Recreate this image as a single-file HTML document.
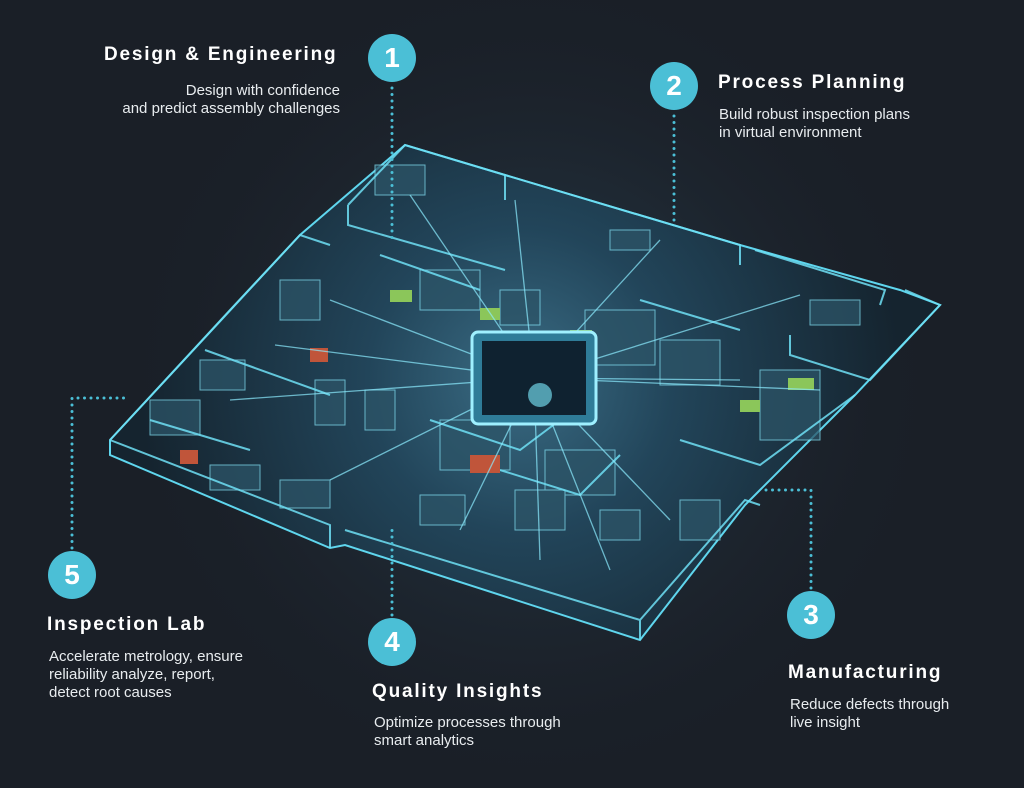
<!DOCTYPE html>
<html><head><style>
html,body{margin:0;padding:0;background:#1a1f27;}
body{width:1024px;height:788px;position:relative;overflow:hidden;font-family:"Liberation Sans",sans-serif;color:#fff;}
.h{position:absolute;font-size:19px;font-weight:bold;letter-spacing:1.8px;white-space:nowrap;}
.t{position:absolute;font-size:15px;line-height:18px;color:#e8ecef;white-space:nowrap;}
.c{position:absolute;width:48px;height:48px;border-radius:50%;background:#4bbfd6;color:#fff;font-size:28px;font-weight:bold;text-align:center;line-height:48px;}
</style></head><body>
<svg width="1024" height="788" style="position:absolute;left:0;top:0">
<defs>
<radialGradient id="g" cx="520" cy="380" r="380" gradientUnits="userSpaceOnUse">
<stop offset="0" stop-color="#3a6c84"/><stop offset="0.4" stop-color="#22455a"/><stop offset="1" stop-color="#15242f"/>
</radialGradient>
<radialGradient id="glow" cx="530" cy="380" r="420" gradientUnits="userSpaceOnUse">
<stop offset="0" stop-color="#2b4556" stop-opacity="0.9"/><stop offset="1" stop-color="#1a1f27" stop-opacity="0"/>
</radialGradient>
</defs>
<rect width="1024" height="788" fill="url(#glow)"/>
<polygon points="110,440 300,235 405,145 505,175 740,245 900,290 940,305 855,395 760,490 745,505 640,640 345,545 330,548 110,455" fill="url(#g)" stroke="#5fd6ee" stroke-width="2"/>
<!-- machine blocks -->
<g fill="#2c5467" stroke="#7fdcef" stroke-width="1" opacity="0.75">
<rect x="200" y="360" width="45" height="30"/><rect x="150" y="400" width="50" height="35"/>
<rect x="280" y="480" width="50" height="28"/><rect x="210" y="465" width="50" height="25"/>
<rect x="315" y="380" width="30" height="45"/><rect x="365" y="390" width="30" height="40"/>
<rect x="440" y="420" width="70" height="50"/><rect x="545" y="450" width="70" height="45"/>
<rect x="515" y="490" width="50" height="40"/><rect x="420" y="495" width="45" height="30"/>
<rect x="585" y="310" width="70" height="55"/><rect x="420" y="270" width="60" height="40"/>
<rect x="660" y="340" width="60" height="45"/><rect x="760" y="370" width="60" height="70"/>
<rect x="500" y="290" width="40" height="35"/><rect x="375" y="165" width="50" height="30"/>
<rect x="610" y="230" width="40" height="20"/><rect x="810" y="300" width="50" height="25"/>
<rect x="600" y="510" width="40" height="30"/><rect x="680" y="500" width="40" height="40"/>
<rect x="280" y="280" width="40" height="40"/>
</g>
<g fill="none" stroke="#6fe0f5" stroke-width="2" opacity="0.85">
<polyline points="348,205 405,145 505,175 505,200"/>
<polyline points="348,205 348,225 505,270"/>
<polyline points="505,175 740,245 740,265"/>
<polyline points="755,250 885,290 880,305"/>
<polyline points="905,290 940,305 870,380 790,355 790,335"/>
<polyline points="110,440 230,310 300,235 330,245"/>
<polyline points="110,440 330,525 330,548"/>
<polyline points="345,530 640,620 640,640"/>
<polyline points="640,620 745,500 760,505"/>
<polyline points="680,440 760,465 855,395"/>
<polyline points="205,350 330,395"/>
<polyline points="380,255 480,290"/>
<polyline points="430,420 520,450 560,420"/>
<polyline points="500,470 580,495 620,455"/>
<polyline points="150,420 250,450"/>
<polyline points="640,300 740,330"/>
</g>
<g>
<rect x="470" y="455" width="30" height="18" fill="#c0553a"/>
<rect x="390" y="290" width="22" height="12" fill="#8bc65a"/>
<rect x="570" y="330" width="22" height="12" fill="#8bc65a"/>
<rect x="740" y="400" width="20" height="12" fill="#8bc65a"/>
<rect x="310" y="348" width="18" height="14" fill="#c0553a"/>
<rect x="180" y="450" width="18" height="14" fill="#c0553a"/>
<rect x="788" y="378" width="26" height="12" fill="#8bc65a"/>
<rect x="480" y="308" width="20" height="12" fill="#8bc65a"/>
</g>
<g stroke="#8cecff" stroke-width="1.3" opacity="0.7">
<line x1="534" y1="378" x2="515" y2="200"/><line x1="534" y1="378" x2="660" y2="240"/>
<line x1="534" y1="378" x2="800" y2="295"/><line x1="534" y1="378" x2="740" y2="380"/>
<line x1="534" y1="378" x2="820" y2="390"/><line x1="534" y1="378" x2="670" y2="520"/>
<line x1="534" y1="378" x2="610" y2="570"/><line x1="534" y1="378" x2="460" y2="530"/>
<line x1="534" y1="378" x2="330" y2="480"/><line x1="534" y1="378" x2="230" y2="400"/>
<line x1="534" y1="378" x2="275" y2="345"/><line x1="534" y1="378" x2="330" y2="300"/>
<line x1="534" y1="378" x2="410" y2="195"/><line x1="534" y1="378" x2="540" y2="560"/>
</g>
<rect x="472" y="332" width="124" height="92" rx="6" fill="#2f7c98" stroke="#9ff0ff" stroke-width="3"/>
<rect x="482" y="341" width="104" height="74" fill="#0f2230"/>
<circle cx="540" cy="395" r="12" fill="#6fd3e6" opacity="0.7"/>
<g fill="none" stroke="#4bbfd6" stroke-width="3" stroke-linecap="round" stroke-dasharray="0 6.5">
<polyline points="392,88 392,238"/>
<polyline points="674,116 674,222"/>
<polyline points="811,588 811,490 760,490"/>
<polyline points="72,548 72,398 130,398"/>
<polyline points="392,615 392,530"/>
</g>
</svg>
<div class="c" style="left:368px;top:34px">1</div>
<div class="c" style="left:650px;top:62px">2</div>
<div class="c" style="left:787px;top:591px">3</div>
<div class="c" style="left:368px;top:618px">4</div>
<div class="c" style="left:48px;top:551px">5</div>
<div class="h" style="left:104px;top:44px">Design &amp; Engineering</div>
<div class="t" style="right:684px;top:82px;text-align:right">Design with confidence<br>and predict assembly challenges</div>
<div class="h" style="left:718px;top:72px">Process Planning</div>
<div class="t" style="left:719px;top:106px">Build robust inspection plans<br>in virtual environment</div>
<div class="h" style="left:788px;top:662px">Manufacturing</div>
<div class="t" style="left:790px;top:696px">Reduce defects through<br>live insight</div>
<div class="h" style="left:372px;top:681px">Quality Insights</div>
<div class="t" style="left:374px;top:714px">Optimize processes through<br>smart analytics</div>
<div class="h" style="left:47px;top:614px">Inspection Lab</div>
<div class="t" style="left:49px;top:648px">Accelerate metrology, ensure<br>reliability analyze, report,<br>detect root causes</div>
</body></html>
